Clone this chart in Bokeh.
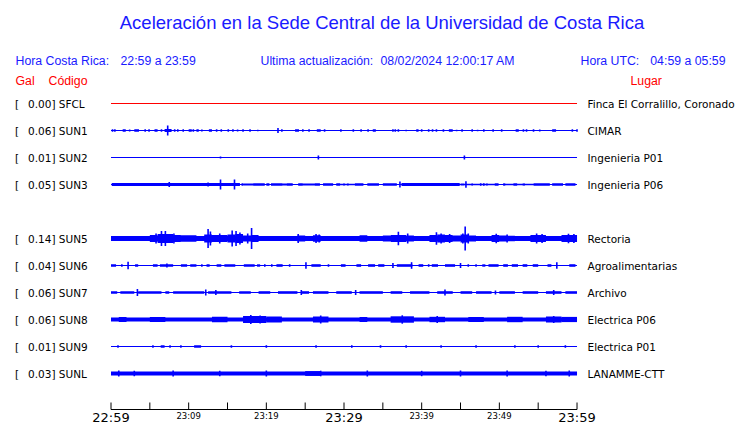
from bokeh.plotting import figure
from bokeh.models import Range1d
from bokeh.core.properties import value
from bokeh.embed import file_html
from bokeh.resources import INLINE

# ---------------- data ----------------
codes = ["SFCL", "SUN1", "SUN2", "SUN3", "SUN5", "SUN6", "SUN7", "SUN8", "SUN9", "SUNL"]
peaks = [0.00, 0.06, 0.01, 0.05, 0.14, 0.04, 0.06, 0.06, 0.01, 0.03]
places = ["Finca El Corralillo, Coronado", "CIMAR", "Ingenieria P01", "Ingenieria P06",
          "Rectoria", "Agroalimentarias", "Archivo", "Electrica P06", "Electrica P01", "LANAMME-CTT"]
slots = [0, 1, 2, 3, 5, 6, 7, 8, 9, 10]          # SUN4 row is empty
colors = ["#ff0000"] + ["#0000ff"] * 9

tick_minutes = list(range(0, 61, 5))
tick_labels = ["22:59", "", "23:09", "", "23:19", "", "23:29", "", "23:39", "", "23:49", "", "23:59"]
big_ticks = [0, 30, 60]

# per-station envelope: continuous base half-amplitude, bursts (t0, t1, half-amp), spikes (t, half-amp)
base = [0, 0, 0, 0, 2.5, 0, 0, 2.0, 0, 2.1]

SFCL_bursts = []
SFCL_spikes = []
SUN1_bursts = [(1.5, 1.9, 1.3), (3.0, 3.6, 1.3), (5.6, 6.0, 1.2), (6.9, 7.8, 1.4), (10.0, 10.4, 1.3),
               (11.0, 11.3, 1.2), (12.6, 13.0, 1.3), (23.7, 24.2, 1.3), (26.5, 27.0, 1.2), (33.7, 34.1, 1.3),
               (39.3, 39.6, 1.2), (43.5, 44.0, 1.3), (52.1, 52.5, 1.2), (56.8, 57.3, 1.2)]
SUN1_spikes = [(7.3, 5.0), (21.5, 2.5), (0.2, 1.2), (0.5, 1.2), (2.4, 1.0), (4.4, 1.3), (4.9, 1.3), (6.5, 1.3),
               (8.2, 1.3), (8.6, 1.2), (9.3, 1.2), (10.6, 1.3), (11.7, 1.0), (13.6, 1.2), (14.2, 1.2),
               (15.1, 1.3), (15.7, 1.2), (16.3, 1.0), (17.0, 1.2), (17.9, 1.3), (18.9, 0.8), (22.0, 1.3),
               (24.7, 1.2), (25.5, 1.3), (27.5, 1.2), (29.6, 1.3), (31.2, 1.3), (32.2, 1.2), (33.1, 1.3),
               (36.3, 1.3), (36.6, 1.3), (37.0, 1.2), (38.0, 0.8), (40.0, 1.3), (40.9, 1.2), (41.4, 1.2),
               (41.9, 1.3), (42.8, 1.3), (44.5, 0.8), (45.2, 1.2), (46.5, 1.2), (47.2, 0.8), (48.0, 1.2),
               (49.2, 1.2), (50.3, 1.2), (53.1, 1.3), (53.5, 1.2), (54.4, 1.3), (55.2, 1.0), (59.4, 1.2), (60.0, 1.3)]
SUN2_bursts = []
SUN2_spikes = [(14.1, 1.0), (26.7, 2.0), (45.5, 2.0)]
SUN3_bursts = [(0.1, 16.6, 1.5), (16.8, 17.0, 1.2), (17.0, 18.3, 0.9), (18.3, 19.8, 1.2), (20.0, 20.4, 1.2),
               (20.6, 22.1, 1.2), (22.1, 22.6, 0.9), (22.6, 23.4, 1.2), (24.1, 24.7, 1.2), (24.7, 26.2, 0.9),
               (26.2, 26.9, 1.2), (27.3, 28.6, 1.2), (29.0, 29.5, 1.2), (29.5, 31.4, 0.8), (31.4, 32.5, 1.2),
               (33.0, 34.5, 1.2), (35.0, 36.8, 1.2), (37.4, 44.9, 1.5), (45.0, 45.5, 1.0), (45.5, 49.4, 0.8),
               (49.4, 49.9, 1.2), (50.5, 50.8, 1.0), (50.8, 51.8, 0.8), (51.8, 52.3, 1.2), (52.3, 54.4, 0.8),
               (53.0, 53.3, 1.0), (54.4, 56.5, 1.3), (56.8, 58.2, 1.3), (58.5, 59.8, 1.3)]
SUN3_spikes = [(7.5, 2.5), (12.5, 2.0), (14.1, 5.0), (15.9, 5.0), (37.2, 3.0), (45.7, 3.3), (30.0, 1.0),
               (30.5, 1.0), (46.5, 1.0), (47.6, 1.2), (48.0, 1.2), (48.4, 1.0), (50.6, 1.0)]
SUN5_bursts = [(5, 6, 3.5), (6, 8, 4.5), (8, 9, 3.5), (9, 11, 3.2), (12, 13, 4.0), (13, 15, 3.5), (15, 16, 4.0),
               (16, 17, 4.5), (17, 18, 3.0), (18, 19, 3.5), (24, 25, 3.0), (26, 27, 3.2), (32, 33, 3.3),
               (35, 36, 3.0), (36, 38, 3.5), (38, 39, 3.0), (41, 42, 3.5), (42, 43, 4.0), (43, 44, 3.5),
               (44, 45, 3.0), (45, 46, 4.0), (46, 47, 3.0), (49, 50, 3.5), (50, 51, 3.0), (51, 52, 2.8),
               (54, 56, 3.5), (58, 60, 3.5)]
SUN5_spikes = [(6.5, 7.5), (7.0, 7.5), (5.8, 5.0), (8.1, 5.0), (12.5, 9.5), (12.8, 7.0), (14.0, 5.0),
               (15.6, 8.0), (16.1, 7.5), (16.6, 6.0), (18.1, 10.5), (17.6, 5.0), (24.1, 4.5), (26.4, 4.5),
               (26.8, 4.0), (37.0, 6.7), (38.2, 5.0), (41.9, 6.3), (42.5, 5.0), (43.6, 4.5), (45.6, 12.0),
               (45.3, 5.0), (46.0, 5.0), (49.6, 4.8), (51.0, 4.0), (54.8, 5.0), (55.5, 4.5), (58.9, 4.8),
               (59.6, 4.5)]
SUN6_bursts = [(0.0, 0.65, 1.3), (3.1, 3.5, 1.3), (5.4, 6.0, 1.3), (6.3, 8.0, 1.3), (9.0, 9.8, 1.3),
               (10.2, 11.0, 1.3), (12.3, 12.7, 1.2), (13.6, 14.2, 1.3), (14.6, 16.0, 1.3), (17.1, 18.5, 1.3),
               (18.8, 19.2, 1.2), (21.3, 22.1, 1.3), (25.8, 27.0, 1.3), (29.6, 30.2, 1.3), (31.6, 32.2, 1.3),
               (33.1, 34.0, 1.3), (34.4, 35.2, 1.3), (36.8, 38.8, 1.3), (39.6, 40.2, 1.3), (41.3, 42.1, 1.3),
               (43.0, 44.3, 1.3), (47.8, 48.2, 1.2), (48.6, 49.9, 1.3), (50.5, 51.1, 1.3), (51.6, 52.4, 1.3),
               (53.0, 53.6, 1.3), (54.3, 55.0, 1.3), (56.2, 56.7, 1.3), (59.0, 59.8, 1.3)]
SUN6_spikes = [(1.4, 1.3), (2.2, 3.8), (7.2, 2.0), (11.7, 1.3), (19.8, 1.3), (20.7, 1.3), (23.0, 1.3),
               (25.1, 3.3), (28.0, 1.3), (36.3, 2.5), (38.7, 3.3), (40.9, 1.3), (45.0, 2.5), (46.0, 1.3),
               (47.0, 1.3), (57.4, 3.3)]
SUN7_bursts = [(0.0, 0.8, 1.3), (1.2, 3.0, 1.3), (3.5, 6.5, 1.3), (7.0, 7.5, 1.3), (8.0, 12.0, 1.3),
               (12.5, 15.5, 1.3), (16.5, 18.0, 1.3), (19.0, 20.5, 1.3), (21.5, 24.0, 1.3), (24.5, 25.5, 1.3),
               (26.0, 28.0, 1.3), (29.0, 31.0, 1.3), (32.0, 35.0, 1.3), (36.0, 37.5, 1.3), (38.5, 41.0, 1.3),
               (42.0, 44.0, 1.3), (45.0, 46.5, 1.3), (47.0, 49.0, 1.3), (50.0, 52.0, 1.3), (53.0, 55.0, 1.3),
               (56.0, 58.0, 1.3), (58.5, 60.0, 1.3)]
SUN7_spikes = [(3.4, 3.5), (12.2, 3.0), (13.5, 2.5), (24.5, 2.5), (31.5, 2.5), (43.0, 3.0), (49.5, 2.0), (57.0, 2.5)]
SUN8_bursts = [(1, 2, 2.5), (5, 7, 2.5), (13, 15, 2.7), (17, 20, 3.5), (20, 22, 3.0), (26, 28, 3.0), (32, 33, 2.5),
               (36, 39, 3.2), (41, 43, 2.7), (46, 48, 2.5), (51, 53, 2.7), (56, 58, 3.0), (58, 60, 2.6)]
SUN8_spikes = [(18.0, 4.5), (19.2, 4.0), (27.0, 4.0), (37.5, 4.2), (42.0, 3.5), (57.0, 3.5)]
SUN9_bursts = [(6.4, 6.9, 1.2), (10.7, 11.6, 1.2)]
SUN9_spikes = [(0.9, 1.3), (5.4, 1.3), (7.6, 1.3), (9.0, 1.3), (15.5, 1.3), (20.0, 1.3), (26.4, 1.3), (31.0, 1.3),
               (34.7, 1.3), (38.0, 1.3), (42.5, 1.3), (47.0, 1.3), (52.0, 1.3), (55.0, 1.3), (58.5, 1.3)]
SUNL_bursts = [(25, 27, 2.4)]
SUNL_spikes = [(1, 3.0), (3, 2.8), (8, 3.0), (14, 2.7), (20, 3.0), (27, 2.8), (33, 3.0), (40, 2.7), (45, 3.0),
               (51, 3.0), (56, 2.8), (59, 3.0)]

bursts = [SFCL_bursts, SUN1_bursts, SUN2_bursts, SUN3_bursts, SUN5_bursts, SUN6_bursts, SUN7_bursts,
          SUN8_bursts, SUN9_bursts, SUNL_bursts]
spikes = [SFCL_spikes, SUN1_spikes, SUN2_spikes, SUN3_spikes, SUN5_spikes, SUN6_spikes, SUN7_spikes,
          SUN8_spikes, SUN9_spikes, SUNL_spikes]

# ---------------- layout helpers (page pixel -> data) ----------------
W, H = 740, 423
PX0, PXM = 110.5, 7.767          # pixel of minute 0, pixels per minute
def ix(px):
    return (px - PX0) / PXM

ROW0, ROWSTEP = 103, 27
AXIS_Y = 409

p = figure(width=W, height=H, output_backend="svg", toolbar_location=None,
           x_range=Range1d(ix(0), ix(W)), y_range=Range1d(H, 0),
           min_border=0, x_axis_type=None, y_axis_type=None)
p.outline_line_color = None
p.grid.visible = False
p.background_fill_color = "white"
p.border_fill_color = "white"

for k in range(len(codes)):
    yc = ROW0 + ROWSTEP * slots[k]
    col = colors[k]
    p.segment(x0=[0], x1=[60], y0=[yc], y1=[yc], line_color=col, line_width=1)
    if base[k] > 0:
        p.quad(left=[0], right=[60], top=[yc - base[k]], bottom=[yc + base[k]],
               fill_color=col, line_color=None)
    if bursts[k]:
        t0 = [b[0] for b in bursts[k]]
        t1 = [b[1] for b in bursts[k]]
        a = [b[2] for b in bursts[k]]
        p.quad(left=t0, right=t1, top=[yc - v for v in a], bottom=[yc + v for v in a],
               fill_color=col, line_color=None)
    if spikes[k]:
        ts = [s[0] for s in spikes[k]]
        a = [s[1] for s in spikes[k]]
        p.segment(x0=ts, x1=ts, y0=[yc - v for v in a], y1=[yc + v for v in a],
                  line_color=col, line_width=1.6)
    # labels
    p.text(x=[ix(14.5)], y=[yc], text=["["], text_font=value("DejaVu Sans"), text_font_size="10.5px",
           text_baseline="middle", text_color="black")
    p.text(x=[ix(27.5)], y=[yc], text=[f"{peaks[k]:.2f}] {codes[k]}"], text_font=value("DejaVu Sans"),
           text_font_size="10.5px", text_baseline="middle", text_color="black")
    p.text(x=[ix(587)], y=[yc], text=[places[k]], text_font=value("DejaVu Sans"),
           text_font_size="10.5px", text_baseline="middle", text_color="black")

# header texts
blue = "#1a1aff"
p.text(x=[ix(381.5)], y=[22], text=["Aceleración en la Sede Central de la Universidad de Costa Rica"],
       text_font=value("Liberation Sans"), text_font_size="18.5px", text_align="center",
       text_baseline="middle", text_color=blue)
hdr = [(15, "Hora Costa Rica:", "left"), (120, "22:59 a 23:59", "left"),
       (260, "Ultima actualización:", "left"), (380, "08/02/2024 12:00:17 AM", "left"),
       (580, "Hora UTC:", "left"), (725, "04:59 a 05:59", "right")]
for x, t, al in hdr:
    p.text(x=[ix(x)], y=[60], text=[t], text_font=value("Liberation Sans"), text_font_size="12.3px",
           text_align=al, text_baseline="middle", text_color=blue)
for x, t in [(15, "Gal"), (48, "Código"), (630, "Lugar")]:
    p.text(x=[ix(x)], y=[80], text=[t], text_font=value("Liberation Sans"), text_font_size="12.3px",
           text_baseline="middle", text_color="#ff0000")

# time axis (drawn through the x scale)
p.segment(x0=[tick_minutes[0]], x1=[tick_minutes[-1]], y0=[AXIS_Y], y1=[AXIS_Y], line_color="black", line_width=1)
p.segment(x0=tick_minutes, x1=tick_minutes, y0=[AXIS_Y - 7] * len(tick_minutes), y1=[AXIS_Y] * len(tick_minutes),
          line_color="black", line_width=1)
small_x = [m for m, lab in zip(tick_minutes, tick_labels) if lab and m not in big_ticks]
small_t = [lab for m, lab in zip(tick_minutes, tick_labels) if lab and m not in big_ticks]
big_x = [m for m in tick_minutes if m in big_ticks]
big_t = [lab for m, lab in zip(tick_minutes, tick_labels) if m in big_ticks]
p.text(x=small_x, y=[415.5] * len(small_x), text=small_t, text_font=value("DejaVu Sans"),
       text_font_size="8.5px", text_align="center", text_baseline="middle", text_color="black")
p.text(x=big_x, y=[416.5] * len(big_x), text=big_t, text_font=value("DejaVu Sans"),
       text_font_size="13px", text_align="center", text_baseline="middle", text_color="black")

open("out.html", "w").write(file_html(p, INLINE))
